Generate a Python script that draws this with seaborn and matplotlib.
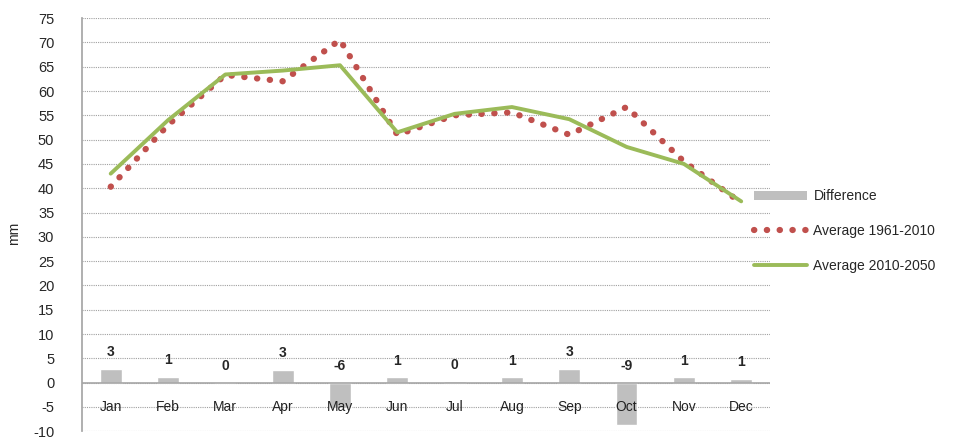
import numpy as np
import pandas as pd
import matplotlib
matplotlib.use("Agg")
import matplotlib.pyplot as plt
import seaborn as sns
from matplotlib.patches import Patch
from matplotlib.lines import Line2D

# Dados
meses = ['Jan', 'Feb', 'Mar', 'Apr', 'May', 'Jun', 'Jul', 'Aug', 'Sep', 'Oct', 'Nov', 'Dec']
media_1961_2010 = [40.3, 53.0, 63.3, 62.0, 70.5, 51.0, 55.0, 55.6, 51.0, 56.7, 45.5, 37.0]
media_2010_2050 = [43.0, 54.0, 63.4, 64.2, 65.3, 51.5, 55.3, 56.7, 54.2, 48.5, 45.0, 37.3]
diferenca = [2.8, 1.2, 0.0, 2.6, -5.3, 1.1, 0.3, 1.1, 2.8, -8.8, 1.1, 0.8]
rotulos_dif = ['3', '1', '0', '3', '-6', '1', '0', '1', '3', '-9', '1', '1']

cor_barra = '#bfbfbf'
cor_verm = '#c0504d'
cor_verde = '#9bbb59'
estilo_pontos = (0, (0.05, 2.0))

sns.set_theme(style="white")
plt.rcParams['font.family'] = ['Liberation Sans', 'DejaVu Sans']
plt.rcParams['axes.unicode_minus'] = False

fig = plt.figure(figsize=(9.54, 4.41), dpi=100)
ax = fig.add_axes([0.086, 0.022, 0.721, 0.937])

df = pd.DataFrame({'x': range(12), 'dif': diferenca,
                   'v1': media_1961_2010, 'v2': media_2010_2050})

sns.barplot(data=df, x='x', y='dif', color=cor_barra, width=0.38,
            saturation=1, ax=ax, zorder=2)
sns.lineplot(data=df, x='x', y='v1', color=cor_verm, linewidth=4.5,
             ax=ax, zorder=3)
ax.lines[-1].set_linestyle(estilo_pontos)
ax.lines[-1].set_dash_capstyle('round')
sns.lineplot(data=df, x='x', y='v2', color=cor_verde, linewidth=2.8,
             ax=ax, zorder=4)

# rótulos das barras
for i, (v, r) in enumerate(zip(diferenca, rotulos_dif)):
    ax.annotate(r, (i, max(v, 0)), xytext=(0, 7), textcoords='offset points',
                ha='center', va='bottom', fontsize=10, fontweight='bold')

# rótulos dos meses junto ao eixo zero
for i, m in enumerate(meses):
    ax.text(i, -3.6, m, ha='center', va='top', fontsize=10, color='#222222')

ax.set_xlim(-0.5, 11.5)
ax.set_ylim(-10, 75)
ax.set_yticks(range(-10, 80, 5))
ax.set_xticks([])
ax.set_xlabel('')
ax.set_ylabel('mm', fontsize=10)
ax.yaxis.set_label_coords(-0.088, 0.48)
ax.tick_params(axis='y', labelsize=10.5, length=0, pad=20)
ax.yaxis.grid(True, linestyle=(0, (1, 1)), color='#a0a0a0', linewidth=0.8)
ax.set_axisbelow(True)
ax.axhline(0, color='#a6a6a6', linewidth=1.2, zorder=2.5)
for s in ['top', 'right', 'bottom']:
    ax.spines[s].set_visible(False)
ax.spines['left'].set_color('#a6a6a6')

handles = [
    Patch(facecolor=cor_barra, edgecolor='none'),
    Line2D([0], [0], color=cor_verm, linewidth=4.5, linestyle=estilo_pontos,
           dash_capstyle='round'),
    Line2D([0], [0], color=cor_verde, linewidth=2.8),
]
leg = fig.legend(handles, ['Difference', 'Average 1961-2010', 'Average 2010-2050'],
                 loc='upper left', bbox_to_anchor=(0.777, 0.599), frameon=False,
                 fontsize=10, handlelength=3.8, labelspacing=1.5, handletextpad=0.5)

fig.savefig('out.png', dpi=100)
